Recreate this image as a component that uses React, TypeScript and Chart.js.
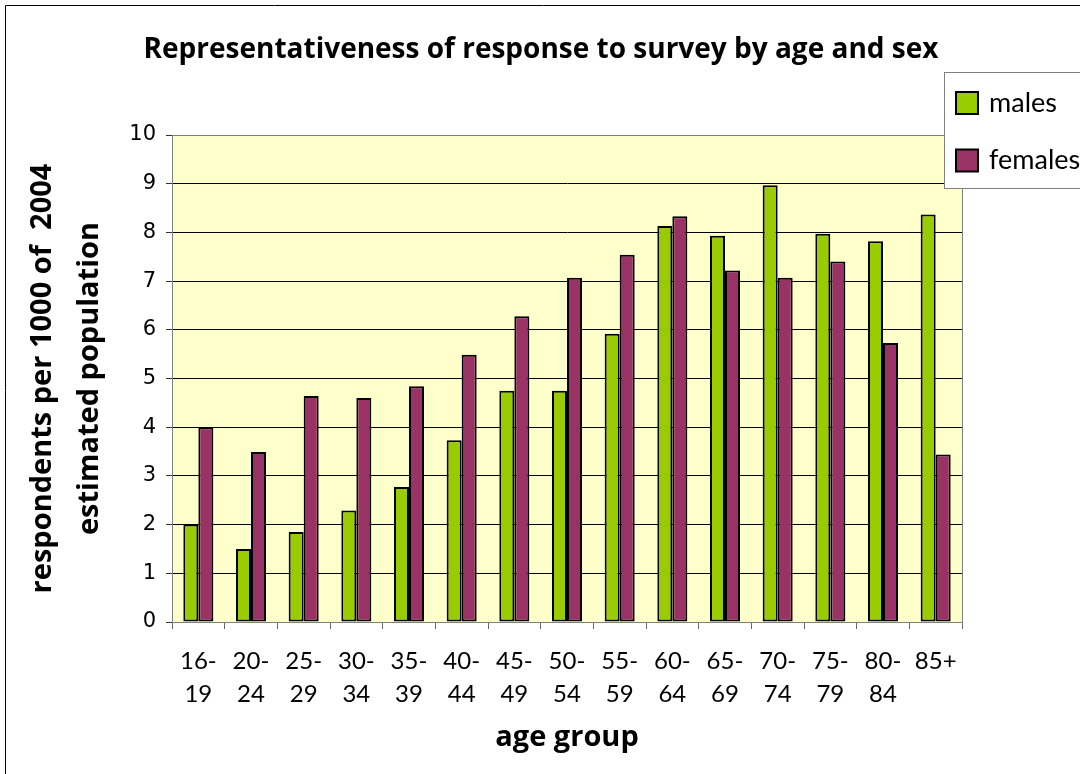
import React, { useEffect, useRef } from 'react';
import { Chart, registerables } from 'chart.js';

Chart.register(...registerables);

const TITLE = 'Representativeness of response to survey by age and sex';
const Y_TITLE = ['respondents per 1000 of  2004', 'estimated population'];
const X_TITLE = 'age group';

const ageGroups = ['16-19', '20-24', '25-29', '30-34', '35-39', '40-44', '45-49', '50-54', '55-59', '60-64', '65-69', '70-74', '75-79', '80-84', '85+'];
const males = [2.0, 1.5, 1.85, 2.29, 2.77, 3.73, 4.75, 4.75, 5.92, 8.13, 7.93, 8.97, 7.97, 7.82, 8.37];
const females = [4.0, 3.49, 4.64, 4.6, 4.84, 5.49, 6.28, 7.07, 7.54, 8.33, 7.22, 7.07, 7.4, 5.73, 3.44];
const yTicks = [0, 1, 2, 3, 4, 5, 6, 7, 8, 9, 10];

const GREEN = '#99CC00';
const PURPLE = '#993366';
const GILL = 'Lato, "Open Sans", sans-serif';
const GILL_BOLD = '"Open Sans", Lato, sans-serif';

const decorPlugin = {
  id: 'decor',
  beforeDraw(chart: any) {
    const { ctx, chartArea: a } = chart;
    ctx.save();
    ctx.fillStyle = '#ffffff';
    ctx.fillRect(0, 0, chart.width, chart.height);
    ctx.strokeStyle = '#000';
    ctx.lineWidth = 1;
    ctx.beginPath();
    ctx.moveTo(5.5, chart.height + 2);
    ctx.lineTo(5.5, 5.5);
    ctx.lineTo(chart.width + 2, 5.5);
    ctx.stroke();
    ctx.fillStyle = '#FFFFCC';
    ctx.fillRect(a.left, a.top, a.right - a.left, a.bottom - a.top);
    ctx.fillStyle = '#000';
    ctx.font = `bold 28px ${GILL_BOLD}`;
    ctx.textAlign = 'center';
    ctx.textBaseline = 'middle';
    ctx.fillText(TITLE, 541, 50);
    ctx.restore();
  },
  beforeDatasetsDraw(chart: any) {
    const { ctx, chartArea: a } = chart;
    ctx.save();
    ctx.strokeStyle = '#808080';
    ctx.lineWidth = 1;
    ctx.strokeRect(Math.round(a.left) + 0.5, Math.round(a.top) + 0.5, Math.round(a.right - a.left), Math.round(a.bottom - a.top));
    ctx.restore();
  },
  afterDraw(chart: any) {
    const { ctx } = chart;
    ctx.save();
    const bx = 944.5, by = 72.5, bw = 200, bh = 116;
    ctx.fillStyle = '#fff';
    ctx.fillRect(bx, by, bw, bh);
    ctx.strokeStyle = '#808080';
    ctx.lineWidth = 1;
    ctx.strokeRect(bx, by, bw, bh);
    ctx.font = `27px ${GILL}`;
    ctx.textBaseline = 'middle';
    ctx.textAlign = 'left';
    chart.data.datasets.forEach((ds: any, i: number) => {
      const cy = 103 + i * 57.5;
      ctx.fillStyle = ds.backgroundColor;
      ctx.fillRect(956, cy - 11, 22, 22);
      ctx.strokeStyle = '#000';
      ctx.lineWidth = 2;
      ctx.strokeRect(956, cy - 11, 22, 22);
      ctx.fillStyle = '#000';
      ctx.fillText(ds.label, 989, cy);
    });
    ctx.restore();
  },
};

export default function App() {
  const ref = useRef<HTMLCanvasElement | null>(null);
  useEffect(() => {
    if (!ref.current) return;
    const chart = new Chart(ref.current, {
      type: 'bar',
      data: {
        labels: ageGroups,
        datasets: [
          { label: 'males', data: males, backgroundColor: GREEN, borderColor: '#000', borderWidth: 2, borderSkipped: false },
          { label: 'females', data: females, backgroundColor: PURPLE, borderColor: '#000', borderWidth: 2, borderSkipped: false },
        ],
      },
      options: {
        animation: false,
        responsive: false,
        devicePixelRatio: 1,
        datasets: { bar: { categoryPercentage: 0.57, barPercentage: 1.0 } },
        layout: { padding: { top: 135, right: 118, left: 0, bottom: 0 } },
        plugins: {
          legend: { display: false },
          title: { display: false },
          tooltip: { enabled: false },
        },
        scales: {
          x: {
            afterFit: (s: any) => { s.height = 152; },
            grid: { display: true, drawOnChartArea: false, drawTicks: true, tickLength: 7, color: '#666', offset: true },
            border: { display: true, color: '#808080' },
            ticks: {
              color: '#000',
              padding: 15,
              maxRotation: 0,
              autoSkip: false,
              font: { family: GILL, size: 24, lineHeight: 1.4 },
              callback: (v: any, i: number) => {
                const s = ageGroups[i];
                const k = s.indexOf('-');
                return k >= 0 ? [s.slice(0, k + 1), s.slice(k + 1)] : [s];
              },
            },
            title: {
              display: true,
              text: X_TITLE,
              color: '#000',
              font: { family: GILL_BOLD, size: 29, weight: 'bold', lineHeight: 1.2 },
              padding: { top: 0, bottom: 19 },
            },
          },
          y: {
            min: 0,
            max: 10,
            afterFit: (s: any) => { s.width = 172; },
            afterBuildTicks: (s: any) => { s.ticks = yTicks.map((v) => ({ value: v })); },
            grid: { color: '#000', tickColor: '#333', tickLength: 6, drawTicks: true },
            border: { display: true, color: '#808080' },
            ticks: {
              color: '#000',
              padding: 10,
              font: { family: '"DejaVu Sans", sans-serif', size: 21 },
            },
            title: {
              display: true,
              text: Y_TITLE,
              color: '#000',
              font: { family: GILL_BOLD, size: 29, weight: 'bold', lineHeight: 1.62 },
              padding: { top: 19, bottom: 0 },
            },
          },
        },
      },
      plugins: [decorPlugin],
    } as any);
    return () => chart.destroy();
  }, []);
  return (
    <div style={{ position: 'fixed', left: 0, top: 0, width: 1080, height: 774, background: '#fff' }}>
      <canvas ref={ref} width={1080} height={774} style={{ display: 'block' }} />
    </div>
  );
}
